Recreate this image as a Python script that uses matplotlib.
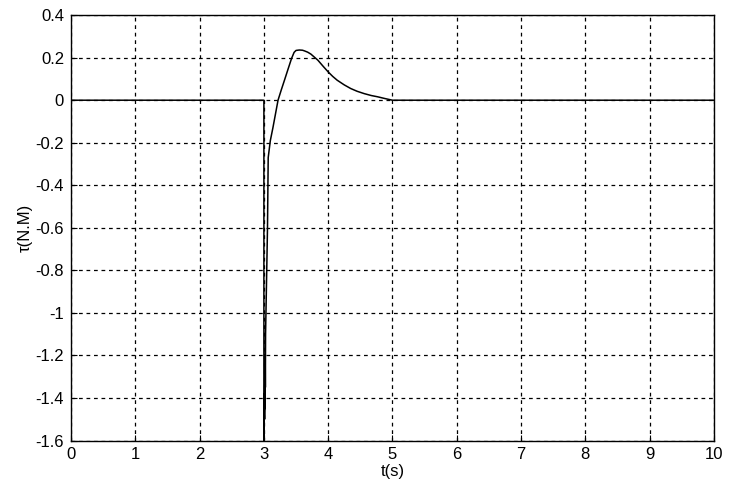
import numpy as np
import matplotlib.pyplot as plt

plt.rcParams['font.family'] = ['Liberation Sans', 'DejaVu Sans']

# torque response
t = [0.0, 3.0, 3.0, 3.004, 3.008, 3.011, 3.014, 3.017, 3.02, 3.023, 3.026,
     3.046, 3.056, 3.067, 3.10, 3.14, 3.18, 3.22, 3.27, 3.32, 3.38, 3.43,
     3.47, 3.50, 3.55, 3.60, 3.63, 3.68, 3.73, 3.84, 3.92, 4.0, 4.07, 4.14,
     4.25, 4.35, 4.45, 4.56, 4.67, 4.77, 4.88, 5.0, 10.0]
tau = [0.0, 0.0, -1.6, -1.52, -1.38, -1.5, -1.3, -1.45, -1.2, -1.35, -1.1,
       -0.77, -0.60, -0.27, -0.19, -0.13, -0.065, 0.0, 0.048, 0.094, 0.15, 0.196,
       0.225, 0.234, 0.236, 0.235, 0.232, 0.226, 0.217, 0.188, 0.16, 0.133, 0.112, 0.094,
       0.072, 0.055, 0.042, 0.031, 0.022, 0.016, 0.008, 0.0, 0.0]

xticks = np.arange(0, 11, 1)
yticks = np.round(np.arange(-1.6, 0.41, 0.2), 1) + 0.0

fig = plt.figure(figsize=(7.36, 4.88), dpi=100)
ax = fig.add_axes([0.0965, 0.0973, 0.8735, 0.8717])
ax.plot(t, tau, color='black', lw=1.1)

ax.set_xlim(0, 10)
ax.set_ylim(-1.6, 0.4)
ax.set_xticks(xticks)
ax.set_yticks(yticks)
ax.set_yticklabels(['0' if abs(v) < 1e-9 else '%g' % v for v in yticks])
ax.grid(True, color='black', linestyle=(0, (3, 3)), linewidth=0.9)
ax.tick_params(direction='in', labelsize=12, length=4, pad=5)
for s in ax.spines.values():
    s.set_linewidth(1.0)

ax.set_xlabel('t(s)', fontsize=12, labelpad=1)
ax.set_ylabel('τ(N.M)', fontsize=12, labelpad=2)

fig.savefig('out.png', dpi=100)
